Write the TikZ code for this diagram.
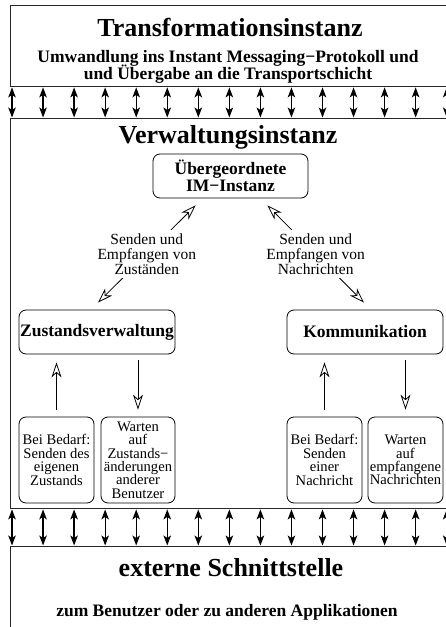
\documentclass[tikz,border=0pt]{standalone}
\usepackage{fontspec}
\setmainfont{Liberation Serif}
\usetikzlibrary{arrows.meta,calc}

% fixed line spacing, independent of accents
\newcommand{\tightlines}{\lineskiplimit=-100pt\lineskip=0pt\relax}

\tikzset{
  layer/.style={draw=black!85, line width=0.9pt, anchor=north west, inner sep=0pt,
                minimum width=460pt},
  rbox/.style={draw, line width=0.8pt, rounded corners=7pt, inner sep=0pt, align=center},
  bigtitle/.style={anchor=base, inner sep=0pt, font=\fontsize{26}{26}\selectfont\bfseries},
  subtitle/.style={align=center, inner sep=0pt, font=\fontsize{17.5}{17}\selectfont\bfseries\tightlines},
  boxtxt/.style={font=\fontsize{14.6}{13.4}\selectfont\tightlines},
  headtxt/.style={font=\fontsize{17.5}{17}\selectfont\bfseries\tightlines},
  lbl/.style={align=center, fill=white, inner sep=3.5pt, font=\fontsize{15.5}{15}\selectfont\tightlines},
  opentip/.tip={Stealth[open, length=15pt, width=10pt, inset=4.5pt, line width=0.8pt]},
  solidtip/.tip={Stealth[length=10pt, width=7.5pt, inset=2.5pt]},
  link/.style={line width=0.8pt, opentip-opentip},
  flow/.style={line width=0.8pt, -opentip},
  dblarrow/.style={line width=1.3pt, solidtip-solidtip, shorten <=0.5pt, shorten >=0.5pt}
}

\begin{document}
\begin{tikzpicture}[x=1pt, y=-1pt]
  \useasboundingbox (0,0) rectangle (446,627);
  \clip (0,0) rectangle (446,627);

  % three layers
  \node[layer, minimum height=81pt] (trans) at (10,5) {};
  \node[layer, minimum height=390pt] (verw) at (10,118) {};
  \node[layer, minimum height=100pt] (ext) at (10,546) {};

  % layer titles
  \node[bigtitle] (transtitle) at (230,36) {Transformationsinstanz};
  \node[subtitle] (transsub) at (228,66.5)
    {Umwandlung ins Instant Messaging−Protokoll und\\und Übergabe an die Transportschicht};
  \node[bigtitle] (verwtitle) at (228,143) {Verwaltungsinstanz};
  \node[bigtitle] (exttitle) at (231,576) {externe Schnittstelle};
  \node[subtitle, anchor=base] (extsub) at (227,616) {zum Benutzer oder zu anderen Applikationen};

  % links between the layers
  \foreach \x in {12,43.05,...,447} {
    \draw[dblarrow] (\x,0 |- trans.south) -- (\x,0 |- verw.north);
    \draw[dblarrow] (\x,0 |- verw.south) -- (\x,0 |- ext.north);
  }

  % management components
  \node[rbox, headtxt, minimum width=155pt, minimum height=44pt] (ueber) at (230.5,176)
    {Übergeordnete\\IM−Instanz};
  \node[rbox, headtxt, minimum width=156pt, minimum height=44pt] (zust) at (97,332)
    {Zustandsverwaltung};
  \node[rbox, headtxt, minimum width=156pt, minimum height=44pt] (komm) at (365,332)
    {Kommunikation};

  \node[rbox, boxtxt, minimum width=75pt, minimum height=86pt] (b1) at (56.5,460)
    {Bei Bedarf:\\Senden des\\eigenen\\Zustands};
  \node[rbox, boxtxt, minimum width=74pt, minimum height=86pt] (b2) at (138,460)
    {Warten\\auf\\Zustands−\\änderungen\\anderer\\Benutzer};
  \node[rbox, boxtxt, minimum width=75pt, minimum height=86pt] (b3) at (324.5,460)
    {Bei Bedarf:\\Senden\\einer\\Nachricht};
  \node[rbox, boxtxt, minimum width=75pt, minimum height=86pt] (b4) at (405.5,460)
    {Warten\\auf\\empfangene\\Nachrichten};

  % exchange with the superior instance
  \draw[link] ($(ueber.south west)+(43,7)$) -- ($(zust.north)+(1,-7)$)
    node[lbl, pos=0.5] (lblz) {Senden und\\Empfangen von\\Zuständen};
  \draw[link] ($(ueber.south east)+(-41,7)$) -- ($(komm.north)+(-1,-7)$)
    node[lbl, pos=0.5] (lbln) {Senden und\\Empfangen von\\Nachrichten};

  % sending and waiting
  \draw[flow, shorten <=7pt, shorten >=8pt] (b1.north) -- (b1.north |- zust.south);
  \draw[flow, shorten <=6pt, shorten >=7pt] (b2.north |- zust.south) -- (b2.north);
  \draw[flow, shorten <=7pt, shorten >=8pt] (b3.north) -- (b3.north |- komm.south);
  \draw[flow, shorten <=6pt, shorten >=7pt] (b4.north |- komm.south) -- (b4.north);
\end{tikzpicture}
\end{document}
